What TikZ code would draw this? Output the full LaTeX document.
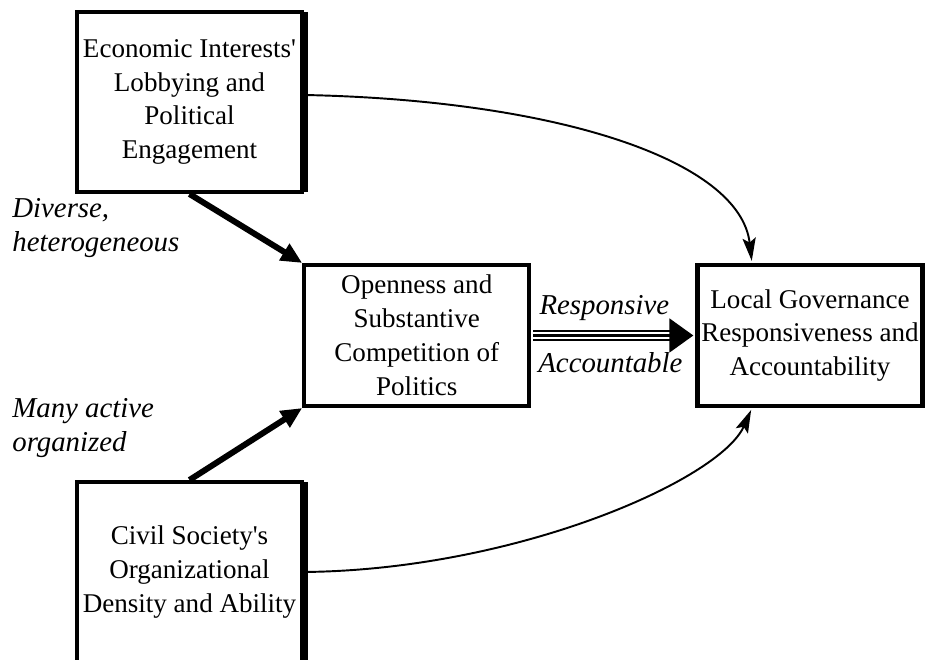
\documentclass[tikz,border=0pt]{standalone}
\usepackage{fontspec}
\setmainfont{Liberation Serif}
\usepackage{tikz}
\usetikzlibrary{arrows.meta,shadows}

\newcommand{\figboxfont}{\fontsize{15.4}{19.3}\selectfont}
\newcommand{\fignotefont}{\fontsize{16.4}{19.5}\selectfont\itshape}

\begin{document}
\begin{tikzpicture}[bigbox/.style={rectangle, draw=black, fill=white, line width=2.3pt, minimum width=4.5cm, minimum height=3.6cm, align=center, inner sep=0pt, font=\figboxfont, drop shadow={shadow xshift=0.11cm, shadow yshift=0cm, opacity=1, fill=black}},
                    midbox/.style={rectangle, draw=black, fill=white, line width=2.3pt, minimum width=4.5cm, minimum height=2.82cm, align=center, inner sep=0pt, font=\figboxfont},
                    note/.style={align=left, inner sep=0pt, font=\fignotefont}]
            \path[use as bounding box] (0,0) rectangle (18.5,13.2);
            \clip (0,0) rectangle (18.5,13.2);

            \node[bigbox] (econ) at (3.79,11.16) {Economic Interests\textquotesingle\\Lobbying and\\Political\\Engagement};
            \node[bigbox] (civil) at (3.79,1.76) {Civil Society\textquotesingle s\\Organizational\\Density and Ability};
            \node[midbox] (open) at (8.335,6.49) {Openness and\\Substantive\\Competition of\\Politics};
            \node[midbox] (local) at (16.2,6.49) {Local Governance\\Responsiveness and\\Accountability};

            \node[note, anchor=west] (diverse) at (0.24,8.64) {Diverse,\\heterogeneous};
            \node[note, anchor=west] (many) at (0.24,4.64) {Many active\\organized};

            \tikzset{push/.style={line width=3.4pt, -{Triangle[length=12pt,width=10.5pt]}}}
            \tikzset{link/.style={line width=1.1pt, shorten >=1.2pt, -{Stealth[length=13pt,width=7.5pt,inset=2.5pt]}}}

            \draw[push] (econ.south) -- (open.north west);
            \draw[push] (civil.north) -- (open.south west);

            \draw[line width=6.8pt, shorten <=1.2pt, shorten >=13pt] (open.east) -- (local.west);
            \draw[white, line width=4.4pt, shorten <=1.2pt, shorten >=13pt] (open.east) -- (local.west);
            \draw[line width=2pt, shorten <=1.2pt, shorten >=1.2pt, -{Triangle[length=13.6pt,width=19pt]}] (open.east) -- (local.west)
                node[pos=0.5, above=0.26cm, inner sep=0pt, xshift=-0.18cm, font=\fignotefont] (resp) {Responsive}
                node[pos=0.5, below=0.3cm, inner sep=0pt, xshift=-0.06cm, font=\fignotefont] (acc) {Accountable};

            \draw[link] ([yshift=0.14cm]econ.east) .. controls +(5.04,-0.1) and +(-0.24,2.06) .. ([xshift=-1.16cm]local.north);
            \draw[link] (civil.east) .. controls +(4.24,0.04) and +(-0.64,-1.44) .. ([xshift=-1.16cm]local.south);

        \end{tikzpicture}
\end{document}
